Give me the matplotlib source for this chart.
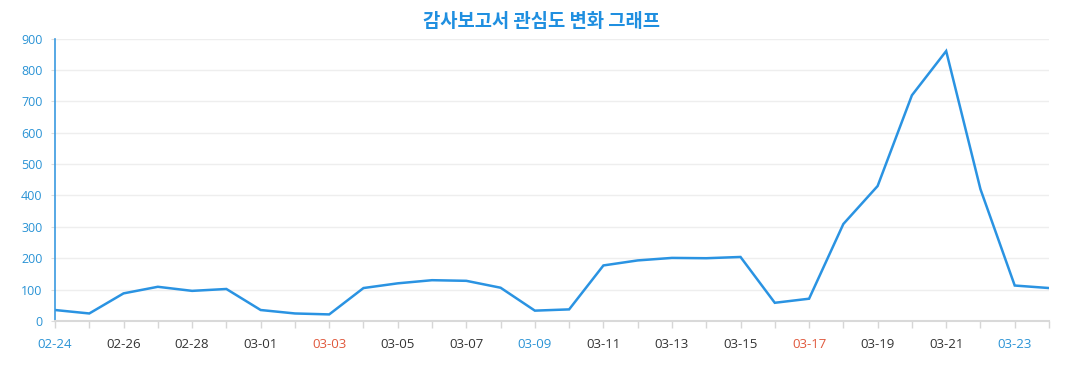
import matplotlib
matplotlib.use("Agg")
import matplotlib.pyplot as plt

plt.rcParams['font.family'] = ['Noto Sans CJK KR', 'DejaVu Sans']

dates = ["02-24", "02-25", "02-26", "02-27", "02-28", "02-29",
         "03-01", "03-02", "03-03", "03-04", "03-05", "03-06", "03-07", "03-08",
         "03-09", "03-10", "03-11", "03-12", "03-13", "03-14", "03-15", "03-16",
         "03-17", "03-18", "03-19", "03-20", "03-21", "03-22", "03-23", "03-24"]
values = [35, 24, 88, 109, 96, 102,
          35, 24, 21, 105, 120, 130, 128, 106,
          33, 37, 177, 193, 201, 200, 204, 58,
          71, 309, 430, 719, 860, 420, 113, 105]
saturdays = ["02-24", "03-09", "03-23"]
sundays = ["03-03", "03-17"]

blue = "#1f8fe0"
fig = plt.figure(figsize=(10.77, 3.9), dpi=100)
ax = fig.add_axes([55 / 1077, 1 - 321 / 390, (1049 - 55) / 1077, (321 - 38.5) / 390])

x = list(range(len(dates)))
ax.plot(x, values, color="#2a93e2", lw=1.8, solid_joinstyle="miter")

ax.set_xlim(0, len(dates) - 1)
ax.set_ylim(0, 900)
ax.set_yticks(range(0, 901, 100))
ax.grid(axis="y", color="#eeeeee", lw=1)
ax.set_axisbelow(True)

ax.set_xticks(x)
ax.set_xticklabels([d if i % 2 == 0 else "" for i, d in enumerate(dates)],
                   family=["Open Sans", "DejaVu Sans"])
ax.set_yticklabels([str(v) for v in range(0, 901, 100)],
                   family=["Open Sans", "DejaVu Sans"])
for lab, d in zip(ax.get_xticklabels(), dates):
    if d in saturdays:
        lab.set_color("#2a93d5")
    elif d in sundays:
        lab.set_color("#e0583c")
    else:
        lab.set_color("#333333")

ax.tick_params(axis="x", length=5, color="#d6d6d6", width=1, labelsize=9.5, pad=7)
ax.tick_params(axis="y", length=3, color="#dddddd", labelcolor="#2a93d5", labelsize=9, pad=6)

for s in ["top", "right"]:
    ax.spines[s].set_visible(False)
ax.spines["left"].set_color("#3a9ae0")
ax.spines["left"].set_linewidth(1.2)
ax.spines["bottom"].set_color("#d9d9d9")
ax.spines["bottom"].set_linewidth(1.5)

fig.text(0.503, 0.945, "감사보고서 관심도 변화 그래프", ha="center", va="center",
         fontsize=13.5, fontweight="bold", color=blue)

plt.savefig("out.png", dpi=100)
